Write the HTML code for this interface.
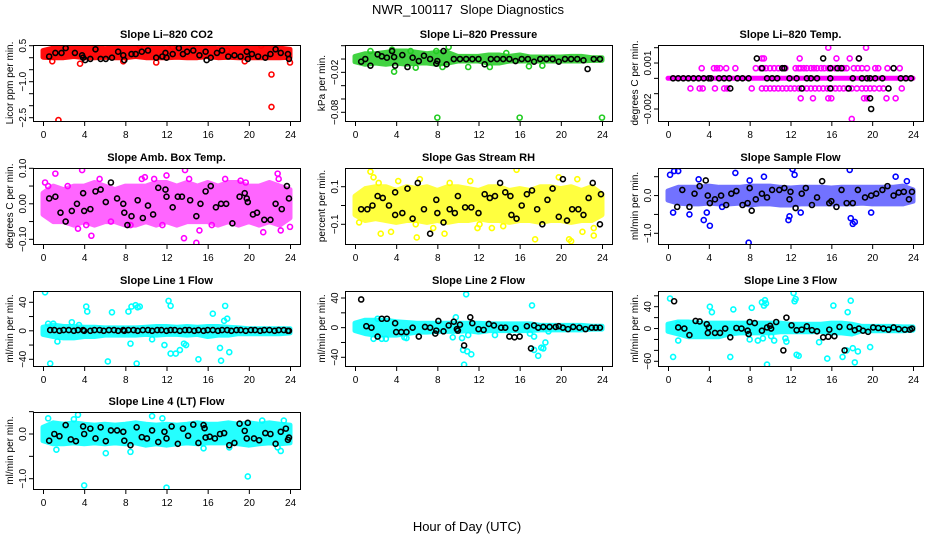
<!DOCTYPE html>
<html><head><meta charset="utf-8"><style>
html,body{margin:0;padding:0;background:#fff;width:936px;height:540px;overflow:hidden}
svg{display:block;font-family:"Liberation Sans",sans-serif}
</style></head><body>
<svg id="chart" width="936" height="540" viewBox="0 0 936 540">
<text x="468" y="14" text-anchor="middle" font-size="13">NWR_100117&#160; Slope Diagnostics</text>
<text x="467" y="531" text-anchor="middle" font-size="13">Hour of Day (UTC)</text>
</svg>
<script>
const hours=[0,1,2,3,4,5,6,7,8,9,10,11,12,13,14,15,16,17,18,19,20,21,22,23,24];
const xTicks=[0,4,8,12,16,20,24];

// P1 CO2
const co2Lo=[0.02,0.0,0.0,0.05,0.0,0.0,0.02,0.0,0.0,0.05,0.0,0.0,0.0,0.02,0.0,0.0,0.05,0.0,0.02,0.0,0.0,0.0,0.0,0.0,0.02];
const co2Hi=[0.3,0.4,0.42,0.4,0.45,0.42,0.38,0.4,0.42,0.45,0.42,0.4,0.38,0.45,0.45,0.42,0.4,0.38,0.42,0.4,0.42,0.45,0.42,0.4,0.35];
const co2X=[1.5,22.2,22.2,3.6,24,0.9,21.2,14.5,7.8,5.1,17.9,11.0,9.4,19.6,12.6];
const co2Y=[-2.6,-2.05,-0.7,-0.25,-0.2,-0.15,0.5,0.5,-0.15,0.45,0.3,-0.2,0.5,-0.15,0.45];
const co2BX=[0.6,1.2,1.8,2.2,3.1,3.8,3.9,4.1,4.6,5.1,5.6,6.1,6.7,7.3,7.8,7.9,8.6,9.0,9.6,10.2,11.0,11.6,11.9,12.0,12.6,13.2,13.6,14.0,14.6,15.2,15.8,15.9,16.3,16.9,17.4,18.0,18.6,19.2,19.8,19.9,20.3,20.9,21.6,22.1,22.6,23.1,23.8,23.9];
const co2BY=[0.05,0.2,0.2,0.4,0.2,0.1,0.0,-0.1,-0.05,0.35,-0.05,-0.05,0.0,0.25,0.1,-0.1,0.15,0.15,0.25,0.3,0.0,0.05,0.2,0.0,0.15,0.4,0.15,0.25,0.3,0.1,0.25,-0.1,0.0,0.2,0.3,0.05,0.1,0.05,0.25,-0.05,0.15,0.05,0.0,0.15,0.35,0.2,0.15,-0.05];
const co2Ticks=[-2.5,-2,-1.5,-1,-0.5,0,0.5];
const co2Labels=["\u22122.5","","","\u22121.0","","","0.5"];

// P2 Pressure
const prLo=[-0.004,-0.008,-0.006,-0.008,-0.006,-0.008,-0.006,-0.006,-0.008,-0.006,-0.003,-0.003,-0.003,-0.006,-0.006,-0.003,-0.003,-0.003,-0.003,-0.003,-0.003,-0.003,-0.003,-0.002,-0.002];
const prHi=[0.004,0.008,0.008,0.01,0.012,0.012,0.01,0.008,0.01,0.01,0.004,0.004,0.004,0.006,0.006,0.004,0.006,0.003,0.003,0.003,0.003,0.004,0.004,0.002,0.002];
const prX=[8,16,24,3.8,1.5,9.1,3.6,5.4,7.9,8.5,14.7,13.1,16.9,18.2,11.0,5.9];
const prY=[-0.088,-0.088,-0.088,-0.019,0.012,0.018,0.014,0.012,0.012,-0.012,0.009,-0.012,-0.011,-0.01,-0.012,-0.013];
const prBX=[0.6,1.0,1.5,2.2,2.6,3.1,3.6,3.8,3.9,4.6,5.1,5.6,6.2,6.7,7.3,7.9,8.0,8.6,8.9,9.6,10.2,10.8,11.4,12.0,12.6,13.2,13.8,14.4,15.0,15.6,16.2,16.8,17.4,18.0,18.6,19.2,19.8,20.4,21.0,21.6,22.2,22.6,23.2,23.8];
const prBY=[-0.004,0.0,-0.01,0.007,0.004,0.002,0.012,0.003,-0.01,0.006,-0.012,0.002,-0.003,0.005,0.0,-0.007,-0.003,0.012,-0.008,0.0,0.0,0.0,0.0,0.0,-0.008,0.0,0.0,0.0,0.0,-0.003,0.0,0.0,-0.004,0.0,0.0,0.0,-0.004,0.0,0.0,0.0,-0.002,-0.015,0.0,0.0];
const prTicks=[-0.08,-0.06,-0.04,-0.02,0,0.02];
const prLabels=["\u22120.08","","","\u22120.02","",""];

// P3 Li-820 Temp (quantized levels)
const tpLo=[0,0,0,0,0,0,0,0,0,0,0,0,0,0,0,0,0,0,0,0,0,0,0,0,0];
const tpHi=[0,0,0,0,0,0,0,0,0,0,0,0,0,0,0,0,0,0,0,0,0,0,0,0,0];
const tpLevels=[0.00066,-0.00066,0.0013,0.002,-0.0013,-0.00265];
const tpLevelX=[
 [3.3,4.5,4.8,5.1,5.7,6.6,8.6,9.1,9.3,9.6,10,10.4,10.8,11.2,11.5,12.5,12.8,13,13.3,13.6,14,14.3,14.6,15,15.3,15.7,16,16.4,16.8,17.2,17.5,18.2,18.6,19,19.5,20.3,20.6,21.5,22.7],
 [2.2,3.1,3.4,4.6,5.5,5.8,8.2,9.2,9.6,10,10.4,10.8,11.2,11.6,12,12.4,12.8,13.2,13.6,14,14.4,14.8,15.2,15.6,16,16.4,16.8,17.2,17.6,18,18.5,19,19.4,19.8,20.2,20.7,21.1,22.9],
 [9.2,9.4,12.9,16.5,17.8,18.7],
 [15.7,19.4],
 [13,14.2,15.7,16,19.2,19.5,21.4,22.3],
 [18]
];
const tpBX=[0.5,1,1.5,2,2.5,3,3.5,4,4.2,5,5.5,6,6.8,7.3,7.9,9.7,10.2,10.7,11.9,12.6,13.6,14,14.6,15.9,18.1,19,19.5,19.8,20.3,21,22.8,23.3,23.8,9.2,11.2,11.4,15.9,16.6,17,22.1,8.7,15.2,18.7,6.1,13.1,15.9,17.7,21.6,19.8,19.9];
const tpBY=[0,0,0,0,0,0,0,0,0,0,0,0,0,0,0,0,0,0,0,0,0,0,0,0,0,0,0,0,0,0,0,0,0,0.00066,0.00066,0.00066,0.00066,0.00066,0.00066,0.00066,0.0013,0.0013,0.0013,-0.00066,-0.00066,-0.00066,-0.00066,-0.00066,-0.0013,-0.002];
const tpTicks=[-0.002,-0.001,0,0.001,0.002];
const tpLabels=["\u22120.002","","","0.001",""];

// P4 Amb Box Temp
const abLo=[-0.03,-0.05,-0.05,-0.06,-0.05,-0.06,-0.05,-0.05,-0.06,-0.06,-0.05,-0.06,-0.05,-0.06,-0.05,-0.05,-0.05,-0.06,-0.05,-0.06,-0.05,-0.06,-0.05,-0.06,-0.04];
const abHi=[0.03,0.05,0.04,0.05,0.05,0.06,0.05,0.04,0.05,0.05,0.05,0.06,0.06,0.05,0.06,0.05,0.06,0.05,0.06,0.06,0.05,0.05,0.06,0.05,0.04];
const abX=[0.2,1.2,3.8,2.4,5.5,6.6,9.6,9.9,13.7,13.8,14.9,15.2,19.2,21.4,22.8,23.1,3.4,4.2,10.8,14.2,17.7,19.7,22.9,24,8.5,11.6,0.5,4.7,12.0,16.4];
const abY=[0.06,0.085,0.095,0.05,0.07,-0.05,0.07,0.075,-0.097,0.095,-0.11,-0.075,0.065,-0.08,0.085,-0.075,-0.07,-0.06,0.07,0.07,0.07,0.06,0.07,-0.065,-0.06,-0.06,0.05,-0.09,0.08,-0.06];
const abBX=[0.6,1.2,1.7,2.2,2.8,3.3,3.9,4.0,4.6,5.1,5.6,6.1,6.6,7.2,7.8,7.9,8.2,8.6,9.2,9.7,10.2,10.7,11.2,11.9,12.0,12.6,13.1,13.5,14.3,14.9,15.3,15.8,16.3,16.8,17.3,17.8,18.4,19.1,19.6,19.8,19.9,20.4,20.8,21.5,22.1,22.6,23.2,23.7,23.9];
const abBY=[0.015,0.02,-0.025,-0.05,-0.02,0.0,0.03,-0.02,-0.015,0.035,0.04,0.005,0.06,0.015,0.0,-0.025,-0.06,-0.035,0.01,-0.04,-0.005,-0.03,0.045,0.04,0.02,-0.01,0.02,0.02,0.01,-0.035,0.0,0.035,0.05,-0.01,0.0,0.0,-0.055,0.02,0.03,0.015,0.005,-0.03,-0.025,-0.045,-0.045,0.0,-0.015,0.05,0.015];
const abTicks=[-0.1,-0.05,0,0.05,0.1];
const abLabels=["\u22120.10","","0.00","","0.10"];

// P5 Gas Stream RH
const rhLo=[-0.05,-0.08,-0.07,-0.08,-0.09,-0.08,-0.08,-0.09,-0.08,-0.09,-0.08,-0.08,-0.07,-0.08,-0.08,-0.09,-0.08,-0.08,-0.09,-0.08,-0.08,-0.09,-0.08,-0.08,-0.05];
const rhHi=[0.05,0.09,0.1,0.1,0.08,0.1,0.09,0.1,0.08,0.1,0.1,0.09,0.08,0.1,0.1,0.08,0.09,0.08,0.1,0.1,0.09,0.1,0.08,0.1,0.06];
const rhX=[1.5,1.8,2.3,4.2,6.3,7.6,9.2,11.2,13.3,15.7,19.8,21.0,21.6,23.2,0.4,3.5,8.7,11.9,17.5,20.8,22.1,23.2,2.5,6.0,14.4,5.9,12.1];
const rhY=[0.18,0.15,0.12,0.13,0.14,-0.12,0.12,0.13,-0.12,0.19,0.15,-0.19,0.14,-0.16,-0.09,-0.14,-0.15,-0.12,-0.18,-0.18,-0.14,-0.12,-0.15,-0.17,-0.11,-0.1,-0.1];
const rhBX=[0.6,1.2,1.7,2.2,2.7,3.3,3.9,3.9,4.6,5.1,5.6,6.1,6.7,7.3,7.9,8.0,8.6,9.2,9.7,10.0,10.7,11.3,12.0,12.6,13.1,13.6,14.1,14.6,15.1,15.2,15.7,16.2,16.7,17.2,17.7,18.2,18.7,19.2,19.8,20.2,20.6,21.1,21.7,22.2,22.7,23.1,23.8,23.9];
const rhBY=[-0.02,-0.02,0.0,0.05,0.04,0.0,0.07,-0.05,-0.04,0.09,-0.07,0.12,-0.02,-0.15,0.03,-0.04,-0.09,-0.02,-0.04,0.05,-0.01,-0.01,-0.04,0.06,0.04,0.05,0.12,0.07,0.05,-0.05,-0.07,0.0,0.06,0.08,-0.02,-0.1,0.03,0.09,-0.06,0.14,-0.08,-0.02,-0.02,-0.05,0.04,0.12,-0.1,0.06];
const rhTicks=[-0.1,0,0.1];
const rhLabels=["\u22120.1","","0.1"];

// P6 Sample Flow
const sfLo=[-0.12,-0.2,-0.22,-0.22,-0.2,-0.22,-0.22,-0.2,-0.25,-0.22,-0.22,-0.25,-0.25,-0.22,-0.22,-0.22,-0.22,-0.22,-0.22,-0.2,-0.22,-0.22,-0.22,-0.22,-0.15];
const sfHi=[0.12,0.22,0.22,0.22,0.25,0.22,0.22,0.22,0.25,0.25,0.25,0.22,0.2,0.22,0.22,0.22,0.2,0.22,0.22,0.22,0.22,0.22,0.22,0.25,0.15];
const sfX=[0.2,0.6,1.0,0.5,2.1,3.5,3.8,4.1,6.6,7.9,9.4,12.2,12.4,11.9,11.8,17.8,18.3,18.1,17.9,23.4,22.3,8.0,13.0,19.9,3.0,5.3];
const sfY=[0.55,0.65,0.65,-0.45,-0.5,-0.65,-0.45,-0.8,0.6,-1.25,0.5,0.7,0.55,-0.55,-0.65,0.68,-0.7,-0.75,-0.6,0.38,0.5,0.4,-0.45,-0.45,0.43,-0.3];
const sfBX=[0.9,1.4,2.1,2.6,3.1,3.7,3.9,4.1,4.6,5.2,5.7,6.2,6.7,7.3,7.8,8.0,8.2,8.6,9.2,9.7,10.2,10.9,11.4,11.9,12.0,12.5,13.1,13.5,14.1,14.6,15.1,15.8,16.0,16.5,17.0,17.5,18.1,18.6,19.3,19.9,20.4,21.0,21.5,22.1,22.6,23.1,23.6,23.9];
const sfBY=[-0.3,0.15,-0.3,0.05,0.25,0.4,0.0,-0.2,-0.1,0.0,-0.25,0.05,0.12,-0.25,-0.2,0.2,-0.4,-0.1,0.05,-0.05,0.15,0.15,0.2,-0.1,0.1,-0.33,0.05,0.2,-0.25,-0.05,0.38,-0.2,-0.15,-0.3,0.15,-0.2,-0.2,0.15,-0.05,0.0,0.05,0.15,0.25,0.0,0.08,0.1,-0.1,0.1];
const sfTicks=[-1,-0.5,0,0.5];
const sfLabels=["\u22121.0","","0.0",""];

// P7 Line 1 Flow
const l1Lo=[-5,-8,-10,-10,-8,-8,-6,-6,-6,-6,-5,-6,-5,-5,-6,-5,-8,-6,-6,-4,-4,-4,-4,-4,-3];
const l1Hi=[5,8,6,6,5,5,4,4,4,4,5,6,6,5,6,5,6,6,5,4,3,3,3,3,3];
const l1X=[0.2,0.7,0.5,1.0,1.4,2.8,3.5,4.2,4.3,6.7,6.3,8.3,8.6,9.0,9.2,9.4,8.5,9.1,12.2,12.4,12.4,12.9,13.3,13.9,15.1,16.5,17.2,17.7,17.9,18.1,17.3,17.6,10.6,11.8,13.7];
const l1Y=[54,-46,10,10,-15,12,8,34,27,26,-43,27,34,36,33,34,-18,-46,42,35,-32,-32,-27,-20,-40,24,-24,35,17,-30,-42,14,-12,-20,-18];
const l1BX=[0.7,1.1,1.6,2.0,2.5,3.0,3.4,3.9,4.0,4.6,5.0,5.5,5.9,6.4,6.9,7.3,7.8,7.9,8.3,8.8,9.2,9.7,10.2,10.6,11.1,11.5,12.0,12.4,12.8,13.3,13.8,14.2,14.7,15.1,15.6,16.0,16.5,17.0,17.4,17.9,18.3,18.8,19.2,19.7,20.2,20.6,21.1,21.5,22.0,22.5,22.9,23.4,23.8,23.9];
const l1BY=[1,1,0,1,1,0,1,1,0,0,1,1,0,1,1,0,1,0,1,1,0,1,1,0,1,1,0,1,1,0,1,1,0,1,0,1,1,0,1,1,0,1,1,0,1,1,0,1,1,0,1,1,0,0];
const l1Ticks=[-40,-20,0,20,40];
const l1Labels=["\u221240","","0","","40"];

// P8 Line 2 Flow
const l2Lo=[-4,-8,-10,-10,-10,-8,-6,-6,-5,-5,-5,-4,-6,-4,-4,-4,-4,-4,-3,-3,-3,-3,-3,-2,-2];
const l2Hi=[6,10,10,10,8,7,6,6,6,6,6,6,6,5,5,5,5,5,3,3,3,3,3,2,2];
const l2X=[1.8,3.0,4.8,5.0,9.5,10.6,10.5,10.8,10.9,11.3,11.0,10.4,17.2,17.4,17.8,18.1,18.5,18.3,17.0,17.4,18.8,13.6,9.8,2.2,2.6];
const l2Y=[-15,-15,-13,-14,-13,-50,-30,45,-32,-36,-10,-14,30,-30,-38,-27,-20,-28,-8,-12,-5,-10,14,12,-15];
const l2BX=[0.6,1.1,1.6,2.2,2.6,3.1,3.9,4.0,4.5,5.0,5.6,6.2,6.8,7.3,7.8,7.9,8.1,8.6,9.1,9.6,9.9,10.0,10.2,10.6,11.2,11.4,12.0,12.5,13.0,13.5,14.2,14.6,15.0,15.5,15.6,16.0,16.7,17.1,17.4,17.8,18.3,18.9,19.5,19.8,20.2,20.7,21.2,21.8,22.4,23.0,23.4,23.8];
const l2BY=[38,2,0,-12,12,12,6,-6,-6,-6,0,-12,1,0,-8,-4,9,-5,3,8,-2,-4,4,-24,14,6,-2,-3,5,3,0,0,-12,-13,-1,-12,2,-28,3,0,1,1,1,2,0,-2,1,0,-2,0,0,0];
const l2Ticks=[-40,-20,0,20,40];
const l2Labels=["\u221240","","0","","40"];

// P9 Line 3 Flow
const l3Lo=[-5,-10,-15,-15,-15,-15,-10,-8,-8,-8,-8,-6,-6,-6,-6,-5,-8,-8,-10,-4,-4,-4,-4,-4,-3];
const l3Hi=[8,12,12,10,10,10,10,10,10,10,10,10,8,8,8,8,10,10,8,4,4,4,4,3,3];
const l3X=[0.2,0.5,1.0,4.1,4.3,6.1,6.4,8.0,8.2,8.8,9.2,9.4,9.5,9.6,9.7,10.1,10.4,11.5,12.3,12.4,12.6,12.8,12.5,14.8,15.6,16.2,17.1,17.6,17.9,18.1,18.3,17.5,18.6,19.8,11.6,9.3,1.0];
const l3Y=[55,-52,-22,40,30,-52,35,-20,38,-22,48,42,52,46,-66,-14,-22,-18,65,50,-48,-50,54,-25,-55,42,-52,30,51,-36,-62,-40,-42,-34,-24,-18,8];
const l3BX=[0.6,1.0,1.6,2.1,2.7,3.1,3.8,3.9,4.0,4.6,5.1,5.6,6.1,6.7,7.2,7.8,7.9,8.0,8.5,9.2,9.7,10.0,10.1,10.6,11.3,11.6,12.1,12.6,13.1,13.6,14.1,14.6,15.2,15.7,15.8,16.3,16.8,17.3,17.8,18.3,18.7,19.1,19.6,20.1,20.6,21.1,21.6,22.1,22.6,23.2,23.7,23.9];
const l3BY=[50,2,0,-12,14,13,8,-8,2,-8,-8,0,-16,1,0,-4,-10,12,10,-4,2,5,0,12,-40,20,6,-3,-2,4,-3,-5,-16,-15,-2,-14,3,-40,3,-3,0,-4,-6,2,1,0,-2,2,-1,-2,-2,0];
const l3Ticks=[-60,-40,-20,0,20,40,60];
const l3Labels=["\u221260","","","0","","40",""];

// P10 Line 4 (LT) Flow
const l4Lo=[-0.15,-0.22,-0.22,-0.2,-0.22,-0.2,-0.22,-0.2,-0.22,-0.2,-0.25,-0.22,-0.25,-0.22,-0.2,-0.22,-0.2,-0.2,-0.2,-0.22,-0.25,-0.22,-0.2,-0.22,-0.2];
const l4Hi=[0.15,0.25,0.22,0.25,0.22,0.2,0.22,0.2,0.22,0.25,0.22,0.2,0.22,0.2,0.22,0.25,0.22,0.22,0.25,0.22,0.25,0.22,0.25,0.22,0.2];
const l4X=[4.0,12.0,19.9,3.4,0.5,1.3,6.1,10.6,11.6,21.3,23.4,23.1,8.5,15.6,18.1,22.8,3.0];
const l4Y=[-1.15,-1.2,-0.95,0.43,0.35,-0.35,-0.43,0.4,0.35,0.3,0.3,-0.38,-0.4,-0.32,-0.3,-0.3,0.33];
const l4BX=[0.6,1.1,1.6,2.2,2.7,3.2,3.9,4.0,4.6,5.1,5.6,6.1,6.6,7.2,7.8,7.9,8.5,9.1,9.6,10.1,10.6,11.2,11.8,12.0,12.5,13.1,13.6,14.1,14.6,15.1,15.6,15.7,15.8,16.2,16.7,17.2,17.6,18.1,18.6,19.1,19.6,19.8,19.9,20.5,21.0,21.6,22.1,22.6,23.1,23.6,23.8,23.9];
const l4BY=[-0.15,0.0,-0.05,0.2,-0.12,-0.16,0.17,0.0,0.12,-0.1,0.15,-0.16,0.08,0.08,0.05,-0.15,-0.25,0.15,-0.07,-0.1,0.08,-0.18,0.05,-0.1,0.17,-0.22,0.12,-0.04,0.21,-0.2,0.2,0.13,-0.08,-0.06,-0.1,0.0,0.02,-0.25,-0.2,0.23,0.07,-0.1,0.25,-0.1,-0.14,0.02,0.0,-0.22,0.05,0.12,-0.13,-0.08];
const l4Ticks=[-1,-0.5,0,0.5];
const l4Labels=["\u22121.0","","0.0",""];

const tpX=[], tpY=[];
tpLevelX.forEach((xs,i)=>xs.forEach(x=>{tpX.push(x);tpY.push(tpLevels[i]);}));

const NS="http://www.w3.org/2000/svg";
const svg=document.getElementById('chart');
function mk(tag,attrs,parent){const e=document.createElementNS(NS,tag);for(const k in attrs)e.setAttribute(k,attrs[k]);(parent||svg).appendChild(e);return e;}

const cols=[{l:33,r:300},{l:345,r:612},{l:658,r:923}];
const rows=[{t:45,b:121},{t:168,b:244},{t:291,b:366},{t:412,b:489}];

const panels=[
 {name:'co2',title:'Slope Li\u2013820 CO2',ylab:'Licor ppm per min.',c:0,r:0,col:'#ff0000',op:0.95,lo:co2Lo,hi:co2Hi,x:co2X,y:co2Y,bx:co2BX,by:co2BY,ticks:co2Ticks,labels:co2Labels,v1:0.5,p1:45.7,v2:-2.5,p2:117.7},
 {name:'pressure',title:'Slope Li\u2013820 Pressure',ylab:'kPa per min.',c:1,r:0,col:'#22cc22',op:0.85,lo:prLo,hi:prHi,x:prX,y:prY,bx:prBX,by:prBY,ticks:prTicks,labels:prLabels,v1:0.02,p1:45.7,v2:-0.08,p2:112.3},
 {name:'li820-temp',title:'Slope Li\u2013820 Temp.',ylab:'degrees C per min.',c:2,r:0,col:'#ff00ff',op:1,lo:tpLo,hi:tpHi,x:tpX,y:tpY,bx:tpBX,by:tpBY,ticks:tpTicks,labels:tpLabels,v1:0.002,p1:47.7,v2:-0.002,p2:109},
 {name:'amb-box-temp',title:'Slope Amb. Box Temp.',ylab:'degrees C per min.',c:0,r:1,col:'#ff00ff',op:0.6,lo:abLo,hi:abHi,x:abX,y:abY,bx:abBX,by:abBY,ticks:abTicks,labels:abLabels,v1:0.1,p1:168.3,v2:-0.1,p2:239.3},
 {name:'gas-stream-rh',title:'Slope Gas Stream RH',ylab:'percent per min.',c:1,r:1,col:'#ffff00',op:0.75,lo:rhLo,hi:rhHi,x:rhX,y:rhY,bx:rhBX,by:rhBY,ticks:rhTicks,labels:rhLabels,v1:0.1,p1:186.7,v2:-0.1,p2:224.3},
 {name:'sample-flow',title:'Slope Sample Flow',ylab:'ml/min per min.',c:2,r:1,col:'#0000ff',op:0.55,lo:sfLo,hi:sfHi,x:sfX,y:sfY,bx:sfBX,by:sfBY,ticks:sfTicks,labels:sfLabels,v1:0.5,p1:176.7,v2:-1.0,p2:233.3},
 {name:'line1-flow',title:'Slope Line 1 Flow',ylab:'ml/min per min.',c:0,r:2,col:'#00ffff',op:0.85,lo:l1Lo,hi:l1Hi,x:l1X,y:l1Y,bx:l1BX,by:l1BY,ticks:l1Ticks,labels:l1Labels,v1:40,p1:302.3,v2:-40,p2:359.3},
 {name:'line2-flow',title:'Slope Line 2 Flow',ylab:'ml/min per min.',c:1,r:2,col:'#00ffff',op:0.85,lo:l2Lo,hi:l2Hi,x:l2X,y:l2Y,bx:l2BX,by:l2BY,ticks:l2Ticks,labels:l2Labels,v1:40,p1:298,v2:-40,p2:357.3},
 {name:'line3-flow',title:'Slope Line 3 Flow',ylab:'ml/min per min.',c:2,r:2,col:'#00ffff',op:0.85,lo:l3Lo,hi:l3Hi,x:l3X,y:l3Y,bx:l3BX,by:l3BY,ticks:l3Ticks,labels:l3Labels,v1:40,p1:306.7,v2:-60,p2:361.3},
 {name:'line4-flow',title:'Slope Line 4 (LT) Flow',ylab:'ml/min per min.',c:0,r:3,col:'#00ffff',op:0.85,lo:l4Lo,hi:l4Hi,x:l4X,y:l4Y,bx:l4BX,by:l4BY,ticks:l4Ticks,labels:l4Labels,v1:0,p1:434,v2:-1.0,p2:478.7}
];

panels.forEach(P=>{
  const C=cols[P.c], R=rows[P.r];
  const g=mk('g',{});
  
  
  const xs=v=>C.l+10+(v/24)*(C.r-C.l-20);
  const ys=v=>P.p1+(v-P.v1)*(P.p2-P.p1)/(P.v2-P.v1);
  const clip='clip-'+P.name;
  const cp=mk('clipPath',{id:clip},g);
  mk('rect',{x:C.l,y:R.t,width:C.r-C.l,height:R.b-R.t},cp);
  const data=mk('g',{'clip-path':'url(#'+clip+')'},g);
  let pts=[];
  hours.forEach((h,i)=>pts.push(xs(h).toFixed(1)+','+ys(P.hi[i]).toFixed(1)));
  for(let i=hours.length-1;i>=0;i--)pts.push(xs(hours[i]).toFixed(1)+','+ys(P.lo[i]).toFixed(1));
  const band=mk('polygon',{points:pts.join(' '),fill:P.col,stroke:P.col,'stroke-width':5,'stroke-linejoin':'round',opacity:P.op},data);
  
  
  P.x.forEach((x,i)=>{
    const c=mk('circle',{cx:xs(x),cy:ys(P.y[i]),r:2.5,fill:'none',stroke:P.col,'stroke-width':1.6},data);
    
    
  });
  const n=Math.min(P.bx.length,P.by.length);
  for(let i=0;i<n;i++){
    const c=mk('circle',{cx:xs(P.bx[i]),cy:ys(P.by[i]),r:2.5,fill:'none',stroke:'#000','stroke-width':1.6},data);
    
    
  }
  const box=mk('rect',{x:C.l+0.5,y:R.t+0.5,width:C.r-C.l,height:R.b-R.t,fill:'none',stroke:'#000','stroke-width':1},g);
  
  
  const xa=mk('g',{},g);
  
  
  mk('line',{x1:xs(0),x2:xs(24),y1:R.b+0.5,y2:R.b+0.5,stroke:'#000'},xa);
  xTicks.forEach(t=>{
    mk('line',{x1:xs(t)+0.5,x2:xs(t)+0.5,y1:R.b,y2:R.b+5,stroke:'#000'},xa);
    const tx=mk('text',{x:xs(t)+0.5,y:R.b+17,'text-anchor':'middle','font-size':10},xa);
    tx.textContent=t;
  });
  const ya=mk('g',{},g);
  
  
  const t0=ys(P.ticks[0]), t1=ys(P.ticks[P.ticks.length-1]);
  mk('line',{x1:C.l+0.5,x2:C.l+0.5,y1:t0,y2:t1,stroke:'#000'},ya);
  P.ticks.forEach((t,i)=>{
    const yy=ys(t);
    mk('line',{x1:C.l-4,x2:C.l+0.5,y1:yy,y2:yy,stroke:'#000'},ya);
    if(P.labels[i]){
      const tx=mk('text',{x:0,y:0,'text-anchor':'middle','font-size':10,transform:'translate('+(C.l-7)+','+yy+') rotate(-90)'},ya);
      tx.textContent=P.labels[i];
    }
  });
  const yl=mk('text',{x:0,y:0,'text-anchor':'middle','font-size':10,transform:'translate('+(C.l-20)+','+((R.t+R.b)/2)+') rotate(-90)'},g);
  yl.textContent=P.ylab;
  
  
  const ti=mk('text',{x:(C.l+C.r)/2,y:R.t-7,'text-anchor':'middle','font-size':11,'font-weight':'bold'},g);
  ti.textContent=P.title;
  
  
});
</script>
</body></html>
